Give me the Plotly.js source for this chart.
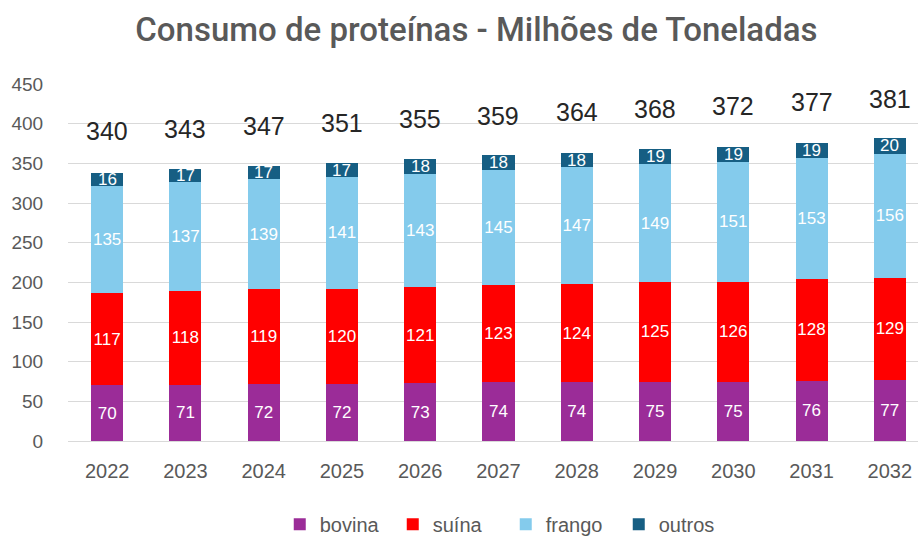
<!DOCTYPE html>
<html>
<head>
<meta charset="utf-8">
<script src="https://cdn.plot.ly/plotly-3.0.1.min.js"></script>
<style>html,body{margin:0;padding:0;background:#fff}#chart{width:918px;height:536px}</style>
</head>
<body>
<div id="chart"></div>
<script>
const years = ['2022','2023','2024','2025','2026','2027','2028','2029','2030','2031','2032'];
const bovina = [70,71,72,72,73,74,74,75,75,76,77];
const suina = [117,118,119,120,121,123,124,125,126,128,129];
const frango = [135,137,139,141,143,145,147,149,151,153,156];
const outros = [16,17,17,17,18,18,18,19,19,19,20];
const totals = [340,343,347,351,355,359,364,368,372,377,381];
const yTicks = [0,50,100,150,200,250,300,350,400,450];

const FONT = 'Liberation Sans, Arial, sans-serif';
const xs = years.map((_, i) => i);
function barTrace(name, vals, color, showText) {
  return {
    type: 'bar', name: name, x: xs, y: vals,
    marker: {color: color},
    text: vals.map(String), textposition: showText ? 'inside' : 'none', insidetextanchor: 'middle', textangle: 0,
    textfont: {color: '#ffffff', size: 17, family: FONT},
    constraintext: 'none', cliponaxis: false, hoverinfo: 'none'
  };
}
const data = [
  barTrace('bovina', bovina, '#9B2C98', true),
  barTrace('suína', suina, '#FF0000', true),
  barTrace('frango', frango, '#84CBEC', true),
  barTrace('outros', outros, '#165E83', false)
];
const annotations = [];
totals.forEach((t, i) => {
  const base = bovina[i] + suina[i] + frango[i];
  annotations.push({x: xs[i], y: base + outros[i] / 2, xref: 'x', yref: 'y', text: String(outros[i]), showarrow: false,
    yanchor: 'middle', font: {size: 17, color: '#ffffff', family: FONT}});
  annotations.push({x: xs[i], y: t, xref: 'x', yref: 'y', text: String(t), showarrow: false,
    yanchor: 'middle', yshift: 40, font: {size: 25, color: '#262626', family: FONT}});
});
const layout = {
  width: 918, height: 536,
  paper_bgcolor: '#ffffff', plot_bgcolor: '#ffffff',
  margin: {l: 68, r: 0, t: 84, b: 95},
  barmode: 'stack', bargap: 0.59,
  title: {text: 'Consumo de proteínas - Milhões de Toneladas', x: 0.519, xanchor: 'center', y: 0.945, yanchor: 'middle',
    font: {size: 33, color: '#595959', family: 'Roboto, sans-serif', weight: 500}},
  xaxis: {range: [-0.5, 10.36], tickmode: 'array', tickvals: xs, ticktext: years,
    ticks: 'outside', ticklen: 12, tickcolor: 'rgba(0,0,0,0)', showgrid: false, zeroline: false, showline: false,
    tickfont: {size: 20, color: '#595959', family: FONT}},
  yaxis: {range: [0, 450], tickmode: 'array', tickvals: yTicks, ticktext: yTicks.map(String),
    ticks: 'outside', ticklen: 20, tickcolor: 'rgba(0,0,0,0)', showgrid: true, gridcolor: '#d9d9d9', gridwidth: 1,
    zeroline: true, zerolinecolor: '#d9d9d9', showline: false,
    tickfont: {size: 19, color: '#595959', family: FONT}},
  showlegend: true,
  legend: {orientation: 'h', x: 0.515, xanchor: 'center', yref: 'container', y: 0.022, yanchor: 'middle', traceorder: 'normal',
    font: {size: 20, color: '#595959', family: FONT}, itemwidth: 30, entrywidth: 68},
  annotations: annotations
};
Plotly.newPlot('chart', data, layout, {displayModeBar: false, staticPlot: true});
</script>
</body>
</html>
